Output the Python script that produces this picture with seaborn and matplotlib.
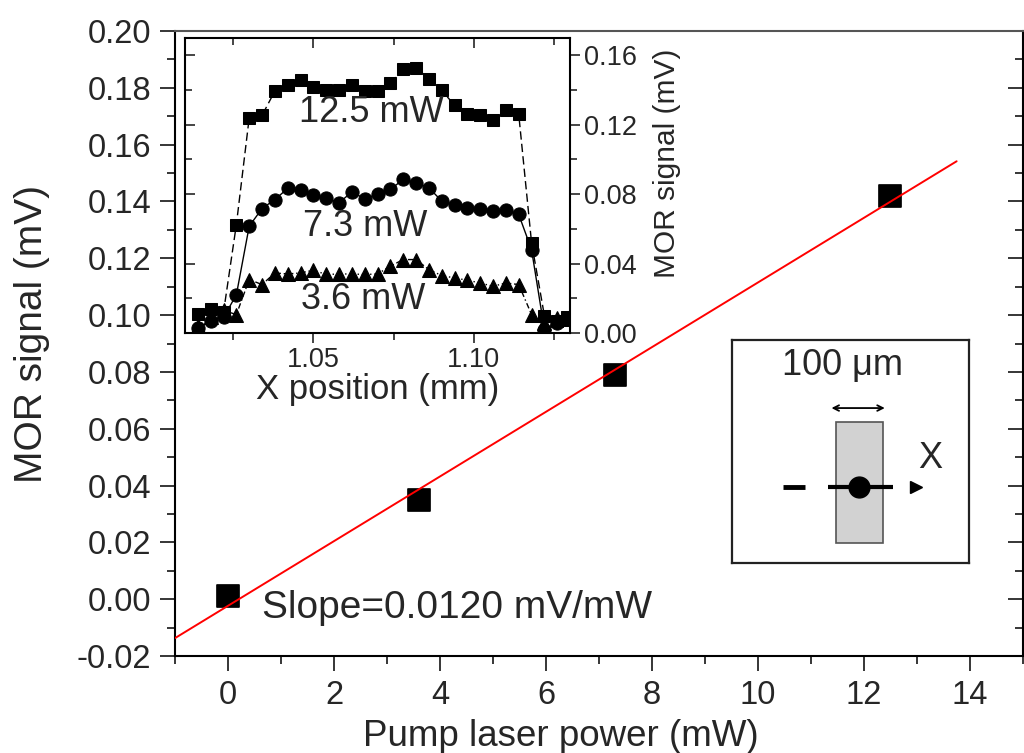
import numpy as np
import matplotlib
matplotlib.use("Agg")
import matplotlib.pyplot as plt
import seaborn as sns
from matplotlib.ticker import MultipleLocator, FormatStrFormatter
from matplotlib.patches import Rectangle

# main panel: MOR signal vs pump power
power = [0.0, 3.6, 7.3, 12.5]
mor = [0.001, 0.035, 0.079, 0.142]
fit_range = [-1.0, 13.75]

# inset: line scans across the stripe
scan_x = [1.014, 1.018, 1.022, 1.026, 1.030, 1.034, 1.038, 1.042, 1.046, 1.050,
          1.054, 1.058, 1.062, 1.066, 1.070, 1.074, 1.078, 1.082, 1.086, 1.090,
          1.094, 1.098, 1.102, 1.106, 1.110, 1.114, 1.118, 1.122, 1.126, 1.129]
scan_125 = [0.011, 0.014, 0.012, 0.0625, 0.124, 0.1254, 0.1394, 0.1427, 0.1458, 0.1419,
            0.140, 0.140, 0.1427, 0.1394, 0.1394, 0.1442, 0.1519, 0.1529, 0.1465, 0.1398,
            0.1312, 0.126, 0.1254, 0.1227, 0.1283, 0.126, 0.052, 0.010, 0.007, 0.009]
scan_73 = [0.003, 0.007, 0.009, 0.022, 0.0615, 0.0717, 0.0769, 0.0833, 0.0823, 0.0794,
           0.0775, 0.075, 0.0813, 0.0773, 0.080, 0.0827, 0.0885, 0.0865, 0.0837, 0.076,
           0.0737, 0.0721, 0.0712, 0.0702, 0.0708, 0.0683, 0.048, 0.002, 0.006, 0.008]
scan_36 = [0.004, 0.009, 0.013, 0.0106, 0.0308, 0.0279, 0.0346, 0.034, 0.0346, 0.0362,
           0.0337, 0.034, 0.034, 0.0337, 0.034, 0.0385, 0.0423, 0.0423, 0.0365, 0.0331,
           0.0317, 0.0304, 0.0288, 0.0269, 0.0288, 0.0279, 0.0106, 0.006, 0.0086, 0.008]

sns.set_style("ticks")
plt.rcParams['font.family'] = ['Liberation Sans', 'DejaVu Sans']
plt.rcParams['axes.unicode_minus'] = False

fig = plt.figure(figsize=(10.24, 7.53), dpi=100)
ax = fig.add_axes([0.1709, 0.1288, 0.828, 0.830])

slope, icpt = np.polyfit(power, mor, 1)
fx = np.array(fit_range)
sns.scatterplot(x=power, y=mor, marker='s', s=240, color='black', edgecolor='black',
                ax=ax, zorder=2)
sns.lineplot(x=fx, y=slope * fx + icpt, color='red', lw=1.4, ax=ax, zorder=3)

ax.set_xlim(-1, 15)
ax.set_ylim(-0.02, 0.20)
ax.xaxis.set_major_locator(MultipleLocator(2))
ax.xaxis.set_minor_locator(MultipleLocator(1))
ax.yaxis.set_major_locator(MultipleLocator(0.02))
ax.yaxis.set_minor_locator(MultipleLocator(0.01))
ax.yaxis.set_major_formatter(FormatStrFormatter('%.2f'))
ax.tick_params(which='major', length=11, width=1.3, labelsize=23.5, pad=6, direction='out')
ax.tick_params(which='minor', length=6, width=1.3, direction='out')
ax.tick_params(which='both', right=True, top=False)
for s in ax.spines.values():
    s.set_linewidth(1.5)
    s.set_color('black')
ax.spines['top'].set_color('#555555')
ax.set_xlabel('Pump laser power (mW)', fontsize=26.5)
ax.set_ylabel('MOR signal (mV)', fontsize=28)
ax.xaxis.set_label_coords(0.455, -0.100)
ax.yaxis.set_label_coords(-0.148, 0.515)
ax.text(0.64, -0.003, 'Slope=0.0120 mV/mW', fontsize=28, va='center', ha='left')
# right-side ticks point inward
for t in ax.yaxis.get_major_ticks() + ax.yaxis.get_minor_ticks():
    t.tick2line.set_marker(matplotlib.lines.TICKLEFT)

# inset
axin = fig.add_axes([0.1807, 0.5578, 0.376, 0.3918])
axin.set_facecolor('white')
sns.lineplot(x=scan_x, y=scan_125, marker='s', markersize=8.5, color='black', lw=1.0,
             linestyle=(0, (6, 3)), markeredgecolor='black', sort=False, ax=axin)
sns.lineplot(x=scan_x, y=scan_73, marker='o', markersize=9.5, color='black', lw=1.0,
             linestyle='-', markeredgecolor='black', sort=False, ax=axin)
sns.lineplot(x=scan_x, y=scan_36, marker='^', markersize=10, color='black', lw=1.0,
             linestyle=(0, (4, 2, 1, 2)), markeredgecolor='black', sort=False, ax=axin)
axin.set_xlim(1.01, 1.13)
axin.set_ylim(0.0, 0.17)
axin.xaxis.set_major_locator(MultipleLocator(0.05))
axin.xaxis.set_minor_locator(MultipleLocator(0.025))
axin.xaxis.set_major_formatter(FormatStrFormatter('%.2f'))
axin.yaxis.set_major_locator(MultipleLocator(0.04))
axin.yaxis.set_minor_locator(MultipleLocator(0.02))
axin.yaxis.set_major_formatter(FormatStrFormatter('%.2f'))
axin.yaxis.tick_right()
axin.yaxis.set_label_position('right')
axin.tick_params(which='both', left=True, top=True, right=True, bottom=True,
                 labelleft=False, labeltop=False, labelright=True, labelbottom=True)
axin.tick_params(which='major', length=7, width=1.2, labelsize=19.5, pad=3)
axin.tick_params(which='minor', length=5, width=1.2)
for t in axin.xaxis.get_major_ticks() + axin.xaxis.get_minor_ticks():
    t.tick2line.set_marker(matplotlib.lines.TICKDOWN)
for t in axin.yaxis.get_major_ticks() + axin.yaxis.get_minor_ticks():
    t.tick1line.set_marker(matplotlib.lines.TICKRIGHT)
for s in axin.spines.values():
    s.set_linewidth(1.5)
    s.set_color('black')
axin.set_xlabel('X position (mm)', fontsize=25, labelpad=0)
axin.set_ylabel('MOR signal (mV)', fontsize=21.5)
axin.yaxis.set_label_coords(1.215, 0.575)
axin.text(1.0682, 0.127, '12.5 mW', fontsize=26, ha='center', va='center')
axin.text(1.0661, 0.0615, '7.3 mW', fontsize=26, ha='center', va='center')
axin.text(1.0656, 0.0192, '3.6 mW', fontsize=26, ha='center', va='center')

# sample schematic
axs = fig.add_axes([0.7148, 0.2523, 0.2314, 0.2961])
axs.set_xlim(0, 1)
axs.set_ylim(0, 1)
axs.set_xticks([])
axs.set_yticks([])
for s in axs.spines.values():
    s.set_linewidth(1.6)
    s.set_color('#222222')
axs.add_patch(Rectangle((0.439, 0.088), 0.199, 0.546, facecolor='#d2d2d2',
                        edgecolor='#555555', lw=1.2))
axs.annotate('', xy=(0.42, 0.695), xytext=(0.645, 0.695),
             arrowprops=dict(arrowstyle='<->', color='black', lw=1.3, shrinkA=0, shrinkB=0))
axs.plot([0.215, 0.308], [0.342, 0.342], color='black', lw=3.5, solid_capstyle='butt')
axs.plot([0.405, 0.679], [0.342, 0.342], color='black', lw=3.0, solid_capstyle='butt')
axs.plot([0.536], [0.342], marker='o', markersize=15, color='black')
axs.plot([0.775], [0.342], marker='>', markersize=9, color='black')
axs.text(0.468, 0.885, '100 \u03bcm', fontsize=26, ha='center', va='center')
axs.text(0.835, 0.47, 'X', fontsize=26, ha='center', va='center')

fig.savefig('out.png', dpi=100)
